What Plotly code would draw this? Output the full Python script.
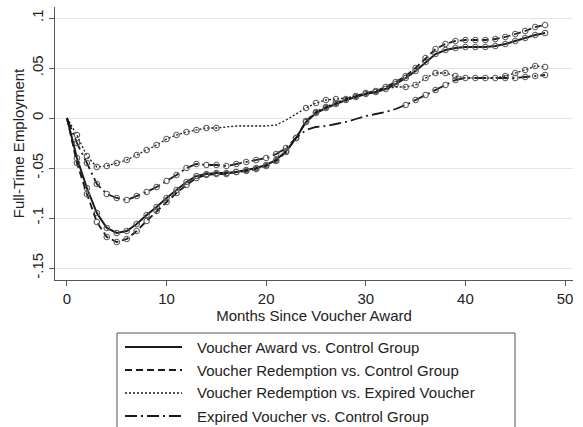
import plotly.graph_objects as go

# ---------------- data ----------------
months = list(range(0, 49))

award_vs_control = [0, -0.040, -0.070, -0.095, -0.110, -0.115, -0.113, -0.106, -0.097, -0.089,
                    -0.080, -0.072, -0.064, -0.058, -0.056, -0.055, -0.055, -0.054, -0.052, -0.050,
                    -0.047, -0.042, -0.033, -0.020, -0.004, 0.005, 0.010, 0.014, 0.018, 0.021,
                    0.024, 0.026, 0.029, 0.034, 0.040, 0.047, 0.056, 0.064, 0.068, 0.070,
                    0.071, 0.071, 0.071, 0.072, 0.074, 0.077, 0.080, 0.083, 0.085]

redemption_vs_control = [0, -0.045, -0.076, -0.104, -0.119, -0.124, -0.121, -0.113, -0.103, -0.093,
                         -0.084, -0.075, -0.067, -0.060, -0.057, -0.056, -0.056, -0.054, -0.053, -0.051,
                         -0.048, -0.043, -0.034, -0.020, -0.003, 0.006, 0.011, 0.015, 0.019, 0.022,
                         0.025, 0.027, 0.031, 0.036, 0.042, 0.050, 0.060, 0.069, 0.074, 0.077,
                         0.078, 0.078, 0.078, 0.079, 0.081, 0.084, 0.087, 0.091, 0.093]

redemption_vs_expired = [0, -0.017, -0.038, -0.049, -0.048, -0.045, -0.042, -0.037, -0.032, -0.027,
                         -0.021, -0.017, -0.014, -0.012, -0.010, -0.010, -0.009, -0.008, -0.008, -0.008,
                         -0.008, -0.007, -0.002, 0.004, 0.010, 0.015, 0.018, 0.019, 0.020, 0.022,
                         0.024, 0.026, 0.029, 0.031, 0.031, 0.033, 0.040, 0.045, 0.045, 0.042,
                         0.040, 0.040, 0.040, 0.040, 0.042, 0.045, 0.048, 0.052, 0.051]

expired_vs_control = [0, -0.025, -0.045, -0.066, -0.076, -0.080, -0.082, -0.078, -0.074, -0.069,
                      -0.063, -0.057, -0.050, -0.046, -0.047, -0.047, -0.048, -0.046, -0.044, -0.042,
                      -0.040, -0.036, -0.030, -0.020, -0.012, -0.009, -0.008, -0.006, -0.004, -0.001,
                      0.002, 0.004, 0.006, 0.009, 0.013, 0.018, 0.023, 0.028, 0.033, 0.038,
                      0.040, 0.040, 0.040, 0.040, 0.040, 0.040, 0.041, 0.042, 0.043]

# months flagged with a marker (1 = marker shown)
flag_award = [0] + [1] * 48
flag_redemption = [0] + [1] * 48
flag_red_exp = [0] + [1] * 15 + [0] * 8 + [1] * 4 + [0] * 6 + [1] * 6 + [0] * 4 + [1] * 5
flag_exp_ctrl = [0] + [1] * 22 + [0] * 11 + [1] * 15

series_names = ["Voucher Award vs. Control Group",
                "Voucher Redemption vs. Control Group",
                "Voucher Redemption vs. Expired Voucher",
                "Expired Voucher vs. Control Group"]

x_ticks = [0, 10, 20, 30, 40, 50]
y_ticks = [0.1, 0.05, 0, -0.05, -0.1, -0.15]
y_tick_labels = [".1", ".05", "0", "-.05", "-.1", "-.15"]

x_title = "Months Since Voucher Award"
y_title = "Full-Time Employment"

# ---------------- styles ----------------
FONT = "Liberation Sans, Arial, Helvetica, sans-serif"
TXT = "#222222"
LINE = "#1a1a1a"
MARK = "#5c5c5c"
dashes = ["solid", "7px,4px", "2px,2px", "12px,4px,2px,4px"]
widths = [2.0, 1.8, 1.3, 1.8]

values = [award_vs_control, redemption_vs_control, redemption_vs_expired, expired_vs_control]
flags = [flag_award, flag_redemption, flag_red_exp, flag_exp_ctrl]

fig = go.Figure()
for name, vals, flg, dash, w in zip(series_names, values, flags, dashes, widths):
    fig.add_trace(go.Scatter(
        x=months, y=vals, name=name, mode="lines+markers",
        line=dict(color=LINE, width=w, dash=dash),
        marker=dict(symbol="circle-open", size=5.5, color=MARK,
                    line=dict(width=1.1, color=MARK), opacity=flg),
        showlegend=False,
    ))

# plot-area geometry (px) for the hand-made legend
L, R, T, B = 55, 10, 7, 147
W, H = 583, 427
pw, ph = W - L - R, H - T - B


def px(xp):
    return (xp - L) / pw


def py(yp):
    return (H - B - yp) / ph


shapes = [dict(type="rect", xref="paper", yref="paper",
               x0=px(117), x1=px(515), y0=py(333), y1=py(445),
               line=dict(color="#555555", width=1), fillcolor="rgba(0,0,0,0)")]
annotations = []
rows = [347, 370, 393, 416]
for name, dash, w, ry in zip(series_names, dashes, widths, rows):
    shapes.append(dict(type="line", xref="paper", yref="paper",
                       x0=px(125), x1=px(182), y0=py(ry), y1=py(ry),
                       line=dict(color=LINE, width=w, dash=dash)))
    annotations.append(dict(xref="paper", yref="paper", x=px(195), y=py(ry),
                            xanchor="left", yanchor="middle", showarrow=False,
                            text=name, font=dict(family=FONT, size=15, color=TXT)))

fig.update_layout(
    width=W, height=H,
    margin=dict(l=L, r=R, t=T, b=B, pad=0),
    paper_bgcolor="white", plot_bgcolor="white",
    font=dict(family=FONT, size=15, color=TXT),
    shapes=shapes, annotations=annotations,
    xaxis=dict(range=[-1.2, 50.8], tickvals=x_ticks, ticks="outside", ticklen=5,
               tickcolor="#555555", showline=True, linecolor="#555555", linewidth=1,
               showgrid=False, zeroline=False,
               title=dict(text=x_title, standoff=2, font=dict(size=15))),
    yaxis=dict(range=[-0.162, 0.111], tickvals=y_ticks, ticktext=y_tick_labels,
               tickangle=-90, ticks="outside", ticklen=5, tickcolor="#555555",
               showline=True, linecolor="#555555", linewidth=1,
               showgrid=True, gridcolor="#e6e6e6", gridwidth=1, zeroline=False,
               title=dict(text=y_title, standoff=0, font=dict(size=15))),
)

fig.write_html("out.html")
